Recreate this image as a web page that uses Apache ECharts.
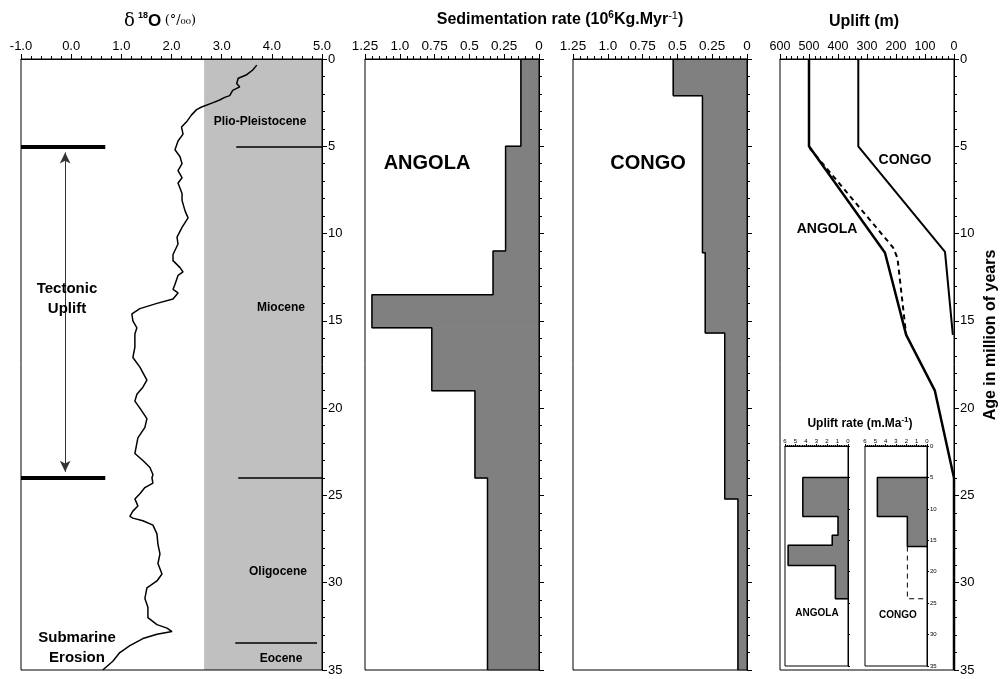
<!DOCTYPE html>
<html><head><meta charset="utf-8">
<script src="https://cdn.jsdelivr.net/npm/echarts@6/dist/echarts.min.js"></script>
<style>html,body{margin:0;padding:0;background:#fff}#c{width:1005px;height:679px}</style>
</head><body><div id="c"></div>
<script>
// ---------- tick labels ----------
const ageTickLabels = ['0','5','10','15','20','25','30','35'];
const d18oTickLabels = ['-1.0','0.0','1.0','2.0','3.0','4.0','5.0'];
const sedTickLabels = ['0','0.25','0.5','0.75','1.0','1.25'];
const upliftTickLabels = ['0','100','200','300','400','500','600'];
const rateTickLabels = ['0','1','2','3','4','5','6'];

// ---------- delta 18O record (age Myr, permil) ----------
const d18oAge = [0.35,0.63,0.9,1.1,1.4,1.6,1.8,2.1,2.2,2.35,2.5,2.75,2.9,3.2,3.6,3.9,4.3,4.7,5.2,5.6,6.0,6.4,6.8,7.1,7.7,8.1,8.7,9.1,9.65,10.2,10.6,11.2,11.55,11.95,12.2,12.4,12.9,13.2,13.4,13.75,14.0,14.3,14.6,15.0,15.4,15.75,16.5,17.1,17.65,18.4,18.8,19.2,19.6,20.0,20.6,21.1,21.7,22.3,22.6,23.0,23.4,23.8,24.0,24.3,24.55,24.9,25.2,25.6,25.9,26.2,26.3,26.45,26.7,27.2,27.8,28.35,28.9,29.5,29.9,30.3,30.9,31.4,32.0,32.4,32.6,32.8,32.95,33.2,33.6,34.0,34.5,35.0];
const d18oValue = [3.70,3.62,3.50,3.33,3.30,3.36,3.22,3.16,3.06,2.96,2.83,2.60,2.50,2.40,2.30,2.20,2.23,2.13,2.07,2.17,2.21,2.13,2.21,2.13,2.21,2.21,2.27,2.33,2.21,2.11,2.13,2.03,2.03,2.17,2.23,2.13,2.07,2.03,2.13,2.03,1.71,1.37,1.21,1.23,1.31,1.27,1.27,1.23,1.37,1.51,1.43,1.31,1.27,1.37,1.51,1.47,1.33,1.29,1.27,1.43,1.57,1.63,1.61,1.63,1.47,1.37,1.27,1.33,1.23,1.17,1.23,1.43,1.63,1.71,1.73,1.77,1.73,1.81,1.71,1.51,1.47,1.53,1.53,1.71,1.91,2.01,1.71,1.43,1.17,0.97,0.83,0.63];
const grayBandStart = 2.65;
const epochBoundaryAge = [5, 24, 33.45];
const epochLineStart = [3.29, 3.33, 3.27];
const epochLineEnd = [5, 5, 4.9];
const upliftEventAge = [5, 24];
const tectonicBarEnd = 0.68;
const arrowX = -0.12;

// ---------- sedimentation rate (10^6 kg/Myr) ----------
const angolaSedBounds = [0, 5, 11, 13.5, 15.4, 19, 24, 35];
const angolaSed = [0.13, 0.24, 0.33, 1.2, 0.77, 0.46, 0.37];
const congoSedBounds = [0, 2.1, 11.1, 15.7, 25.2, 35];
const congoSed = [0.53, 0.32, 0.30, 0.16, 0.065];

// ---------- uplift (m) ----------
const angolaUpliftAge = [0, 5, 11.1, 15.8, 19, 24, 35];
const angolaUplift = [500, 500, 238, 165, 66, 0, 0];
const angolaUpliftAltAge = [5.1, 10.8, 11.4, 15.8];
const angolaUpliftAlt = [498, 210, 195, 165];
const congoUpliftAge = [0, 5, 11.05, 15.8];
const congoUplift = [330, 330, 31, 4];

// ---------- uplift rate (inset) ----------
const angolaRateBounds = [5, 11.2, 14.2, 15.8, 19, 24.3];
const angolaRate = [4.3, 0.95, 1.5, 5.7, 1.2];
const congoRateBounds = [5, 11.2, 16];
const congoRate = [4.8, 1.9];
const congoRateAltBounds = [16, 24.3];
const congoRateAlt = [1.9];

// ---------- helpers ----------
const FONT = "'Liberation Sans', Arial, Helvetica, sans-serif";
function stepRects(b, v){ return v.map((x,i)=>[b[i], b[i+1], x]); }
function stepLine(b, v, close){
  const pts = [];
  if (close) pts.push([0, b[0]]);
  v.forEach((x,i)=>{ pts.push([x,b[i]]); pts.push([x,b[i+1]]); });
  if (close) pts.push([0, b[b.length-1]]);
  return pts;
}
function rectRender(params, api){
  const p0 = api.coord([0, api.value(0)]);
  const p1 = api.coord([api.value(2), api.value(1)]);
  return {type:'rect', shape:{x:Math.min(p0[0],p1[0]), y:Math.min(p0[1],p1[1]),
    width:Math.abs(p1[0]-p0[0]), height:Math.abs(p1[1]-p0[1])},
    style:{fill:'#808080', stroke:'#808080', lineWidth:1}};
}
const black = {color:'#000', width:1};
function xAx(gi, min, max, interval, labels, fs, inverse, margin){
  return {gridIndex:gi, type:'value', min:min, max:max, interval:interval, inverse:inverse,
    position:'top', z:3,
    axisLine:{show:true, onZero:false, lineStyle:black},
    axisTick:{show:true, inside:false, length: fs<8?2:5, lineStyle:black},
    minorTick:{show:true, splitNumber:5, length: fs<8?1:3, lineStyle:black},
    splitLine:{show:false}, minorSplitLine:{show:false},
    axisLabel:{show:true, color:'#000', fontSize:fs, fontFamily:FONT, margin:margin,
      showMinLabel:true, showMaxLabel:true, hideOverlap:false,
      formatter:(v)=>labels[Math.round((v-min)/interval)]}};
}
function yAx(gi, showLabel, fs, small){
  return {gridIndex:gi, type:'value', min:0, max:35, interval:5, inverse:true, position:'right', z:3,
    axisLine:{show:true, onZero:false, lineStyle:black},
    axisTick:{show:true, inside:false, length: small?2:5, lineStyle:black},
    minorTick:{show:true, splitNumber:5, length: small?1:3, lineStyle:black},
    splitLine:{show:false}, minorSplitLine:{show:false},
    axisLabel:{show:showLabel, color:'#000', fontSize:fs, fontFamily:FONT, margin: small?3:6,
      showMinLabel:true, showMaxLabel:true,
      formatter:(v)=>ageTickLabels[Math.round(v/5)]}};
}
function grid(l,t,w,h){ return {left:l, top:t, width:w, height:h, show:true, borderColor:'#000', borderWidth:1, z:5, containLabel:false}; }
function lineS(ax, pts, width, dashed){
  return {type:'line', xAxisIndex:ax, yAxisIndex:ax, data:pts, showSymbol:false, symbol:'none', silent:true,
    lineStyle:{color:'#000', width:width, type: dashed ? [5,4] : 'solid'}, z:4};
}

const chart = echarts.init(document.getElementById('c'), null, {renderer:'canvas'});

const markLines = [];
epochBoundaryAge.forEach((a,i)=>markLines.push([
  {coord:[epochLineStart[i], a], symbol:'none', lineStyle:{color:'#000', width:1.5, type:'solid'}},
  {coord:[epochLineEnd[i], a], symbol:'none'}]));
upliftEventAge.forEach(a=>markLines.push([
  {coord:[-1, a], symbol:'none', lineStyle:{color:'#000', width:4, type:'solid'}},
  {coord:[tectonicBarEnd, a], symbol:'none'}]));
markLines.push([
  {coord:[arrowX, upliftEventAge[0]+0.35], symbol:'arrow', symbolSize:[8,11], lineStyle:{color:'#333', width:1, type:'solid'}},
  {coord:[arrowX, upliftEventAge[1]-0.35], symbol:'arrow', symbolSize:[8,11]}]);

const option = {
  animation:false,
  backgroundColor:'#fff',
  grid:[grid(21,59,301,611), grid(365,59,174,611), grid(573,59,174,611), grid(780,59,174,611),
        grid(785,446,63,220), grid(865,446,62,220)],
  xAxis:[
    xAx(0,-1,5,1,d18oTickLabels,13,false,6),
    xAx(1,0,1.25,0.25,sedTickLabels,13.5,true,6),
    xAx(2,0,1.25,0.25,sedTickLabels,13.5,true,6),
    xAx(3,0,600,100,upliftTickLabels,12.5,true,6),
    xAx(4,0,6,1,rateTickLabels,6,true,2),
    xAx(5,0,6,1,rateTickLabels,6,true,2)
  ],
  yAxis:[ yAx(0,true,13), yAx(1,false,13), yAx(2,false,13), yAx(3,true,13),
          yAx(4,false,6,true), yAx(5,true,6,true) ],
  series:[
    Object.assign(lineS(0, d18oValue.map((v,i)=>[v, d18oAge[i]]), 1.5, false), {
      markArea:{silent:true, itemStyle:{color:'#c0c0c0'}, data:[[{coord:[grayBandStart,0]},{coord:[5,35]}]]},
      markLine:{silent:true, symbol:'none', label:{show:false}, emphasis:{disabled:true}, data:markLines}
    }),
    {type:'custom', xAxisIndex:1, yAxisIndex:1, data:stepRects(angolaSedBounds, angolaSed), renderItem:rectRender, encode:{x:2, y:[0,1]}, silent:true, z:2},
    lineS(1, stepLine(angolaSedBounds, angolaSed, false), 1.5),
    {type:'custom', xAxisIndex:2, yAxisIndex:2, data:stepRects(congoSedBounds, congoSed), renderItem:rectRender, encode:{x:2, y:[0,1]}, silent:true, z:2},
    lineS(2, stepLine(congoSedBounds, congoSed, false), 1.5),
    lineS(3, angolaUplift.map((v,i)=>[v, angolaUpliftAge[i]]), 2.5),
    lineS(3, angolaUpliftAlt.map((v,i)=>[v, angolaUpliftAltAge[i]]), 2, true),
    lineS(3, congoUplift.map((v,i)=>[v, congoUpliftAge[i]]), 2),
    {type:'custom', xAxisIndex:4, yAxisIndex:4, data:stepRects(angolaRateBounds, angolaRate), renderItem:rectRender, encode:{x:2, y:[0,1]}, silent:true, z:2},
    lineS(4, stepLine(angolaRateBounds, angolaRate, true), 1.5),
    {type:'custom', xAxisIndex:5, yAxisIndex:5, data:stepRects(congoRateBounds, congoRate), renderItem:rectRender, encode:{x:2, y:[0,1]}, silent:true, z:2},
    lineS(5, stepLine(congoRateBounds, congoRate, true), 1.5),
    lineS(5, stepLine(congoRateAltBounds, congoRateAlt, false).concat([[0, congoRateAltBounds[1]]]), 1, true)
  ],
  graphic:{elements:[
    {type:'text', x:160, y:21, z:100, style:{text:'{d|δ} {s|18}{o|O} {p|(°/₀₀)}', textAlign:'center', textVerticalAlign:'middle', verticalAlign:'middle',
      rich:{d:{font:'18px "DejaVu Serif", serif', lineHeight:20, fill:'#000'},
            s:{font:'bold 9px '+FONT, lineHeight:11, verticalAlign:'top', fill:'#000'},
            o:{font:'bold 17px '+FONT, lineHeight:20, fill:'#000'},
            p:{font:'13px "DejaVu Serif", serif', lineHeight:20, fill:'#000'}}}},
    {type:'text', x:560, y:20, z:100, style:{text:'{b|Sedimentation rate (10}{s|6}{b|Kg.Myr}{t|-1}{b|)}', textAlign:'center', textVerticalAlign:'middle', verticalAlign:'middle',
      rich:{b:{font:'bold 16px '+FONT, lineHeight:20, fill:'#000'},
            s:{font:'bold 10px '+FONT, lineHeight:11, verticalAlign:'top', fill:'#000'},
            t:{font:'11px '+FONT, lineHeight:14, verticalAlign:'top', fill:'#000'}}}},
    {type:'text', x:864, y:22, z:100, style:{text:'Uplift (m)', font:'bold 16px '+FONT, fill:'#000', textAlign:'center', textVerticalAlign:'middle', verticalAlign:'middle'}},
    {type:'text', x:67, y:299, z:100, style:{text:'Tectonic\nUplift', font:'bold 15px '+FONT, lineHeight:20, fill:'#000', textAlign:'center', textVerticalAlign:'middle', verticalAlign:'middle'}},
    {type:'text', x:77, y:648, z:100, style:{text:'Submarine\nErosion', font:'bold 15px '+FONT, lineHeight:20, fill:'#000', textAlign:'center', textVerticalAlign:'middle', verticalAlign:'middle'}},
    {type:'text', x:260, y:122, z:100, style:{text:'Plio-Pleistocene', font:'bold 12px '+FONT, fill:'#000', textAlign:'center', textVerticalAlign:'middle', verticalAlign:'middle'}},
    {type:'text', x:281, y:308, z:100, style:{text:'Miocene', font:'bold 12px '+FONT, fill:'#000', textAlign:'center', textVerticalAlign:'middle', verticalAlign:'middle'}},
    {type:'text', x:278, y:572, z:100, style:{text:'Oligocene', font:'bold 12px '+FONT, fill:'#000', textAlign:'center', textVerticalAlign:'middle', verticalAlign:'middle'}},
    {type:'text', x:281, y:659, z:100, style:{text:'Eocene', font:'bold 12px '+FONT, fill:'#000', textAlign:'center', textVerticalAlign:'middle', verticalAlign:'middle'}},
    {type:'text', x:427, y:163, z:100, style:{text:'ANGOLA', font:'bold 20px '+FONT, fill:'#000', textAlign:'center', textVerticalAlign:'middle', verticalAlign:'middle'}},
    {type:'text', x:648, y:163, z:100, style:{text:'CONGO', font:'bold 20px '+FONT, fill:'#000', textAlign:'center', textVerticalAlign:'middle', verticalAlign:'middle'}},
    {type:'text', x:905, y:160, z:100, style:{text:'CONGO', font:'bold 14px '+FONT, fill:'#000', textAlign:'center', textVerticalAlign:'middle', verticalAlign:'middle'}},
    {type:'text', x:827, y:229, z:100, style:{text:'ANGOLA', font:'bold 14px '+FONT, fill:'#000', textAlign:'center', textVerticalAlign:'middle', verticalAlign:'middle'}},
    {type:'text', x:860, y:424, z:100, style:{text:'{b|Uplift rate (m.Ma}{s|-1}{b|)}', textAlign:'center', textVerticalAlign:'middle', verticalAlign:'middle',
      rich:{b:{font:'bold 12px '+FONT, lineHeight:16, fill:'#000'}, s:{font:'bold 8px '+FONT, lineHeight:9, verticalAlign:'top', fill:'#000'}}}},
    {type:'text', x:817, y:613, z:100, style:{text:'ANGOLA', font:'bold 10px '+FONT, fill:'#000', textAlign:'center', textVerticalAlign:'middle', verticalAlign:'middle'}},
    {type:'text', x:898, y:615, z:100, style:{text:'CONGO', font:'bold 10px '+FONT, fill:'#000', textAlign:'center', textVerticalAlign:'middle', verticalAlign:'middle'}},
    {type:'text', x:991, y:335, z:100, rotation:Math.PI/2, style:{text:'Age in million of years', font:'bold 16px '+FONT, fill:'#000', textAlign:'center', textVerticalAlign:'middle', verticalAlign:'middle'}}
  ]}
};
chart.setOption(option);
</script></body></html>
